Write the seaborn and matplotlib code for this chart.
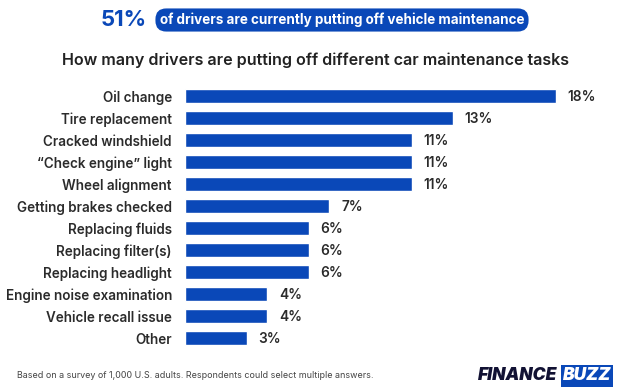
import pandas as pd
import matplotlib.pyplot as plt
import seaborn as sns

tasks = ["Oil change", "Tire replacement", "Cracked windshield", "\u201cCheck engine\u201d light",
         "Wheel alignment", "Getting brakes checked", "Replacing fluids", "Replacing filter(s)",
         "Replacing headlight", "Engine noise examination", "Vehicle recall issue", "Other"]
pct = [18, 13, 11, 11, 11, 7, 6, 6, 6, 4, 4, 3]

df = pd.DataFrame({"task": tasks, "pct": pct})

sns.set_style("white")
plt.rcParams["font.family"] = ["Inter", "DejaVu Sans"]

blue = "#0a48b8"
dark = "#2b2b2b"

fig = plt.figure(figsize=(6.24, 3.91), dpi=100)
W, H = 624, 391
ax = fig.add_axes([185 / W, 1 - 349 / H, (600 - 185) / W, 264 / H])

sns.barplot(data=df, x="pct", y="task", color=blue, width=0.64, saturation=1, ax=ax)

ax.set_xlim(0, 415 / 20.6)
ax.set_ylim(11.5, -0.5)
ax.set_xlabel("")
ax.set_ylabel("")
ax.set_xticks([])
ax.tick_params(axis="y", length=0, pad=9.4)
for lab in ax.get_yticklabels():
    lab.set_fontsize(9.7)
    lab.set_fontweight("semibold")
    lab.set_color(dark)
sns.despine(ax=ax, left=True, bottom=True)

for i, v in enumerate(pct):
    ax.text(v + 0.58, i + 0.06, f"{v}%", va="center", ha="left", fontsize=9.9,
            fontweight="semibold", color=dark)

# header
fig.text(101 / W, 1 - 20 / H, "51%", fontsize=16, fontweight="bold", color=blue,
         va="center", ha="left")
fig.text(342 / W, 1 - 20 / H, "of drivers are currently putting off vehicle maintenance",
         fontsize=9.7, fontweight="bold", color="white", va="center", ha="center",
         bbox=dict(boxstyle="round,pad=0.32,rounding_size=0.8", fc=blue, ec="none"))

fig.text(316 / W, 1 - 60 / H, "How many drivers are putting off different car maintenance tasks",
         fontsize=11.6, fontweight="semibold", color="#222222", va="center", ha="center")

fig.text(17 / W, 1 - 376 / H,
         "Based on a survey of 1,000 U.S. adults. Respondents could select multiple answers.",
         fontsize=6.45, color="#444444", va="center", ha="left")

# logo
fig.text(557 / W, 1 - 376 / H, "FINANCE", fontsize=12.5, fontweight="black", style="italic",
         color="#111133", va="center", ha="right")
fig.text(563 / W, 1 - 376 / H, "BUZZ", fontsize=12.5, fontweight="black", style="italic",
         color="white", va="center", ha="left",
         bbox=dict(boxstyle="square,pad=0.12", fc=blue, ec="none"))

fig.savefig("out.png", dpi=100)
